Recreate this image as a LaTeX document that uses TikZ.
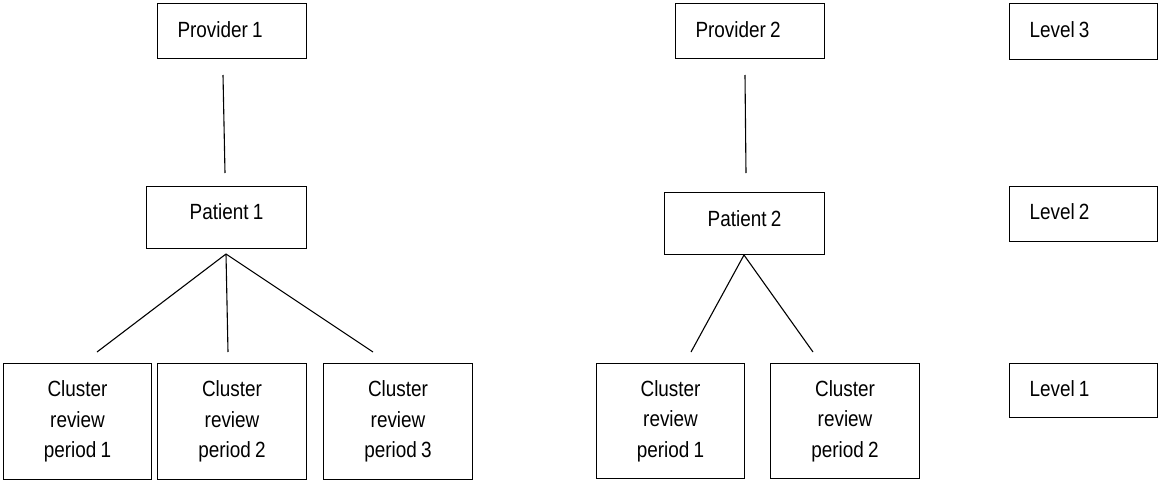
\documentclass[tikz,border=0pt]{standalone}
\usepackage{fontspec}
\setmainfont[FakeStretch=0.86,WordSpace=0.8]{Liberation Sans}
\begin{document}
\begin{tikzpicture}[x=1pt,y=-1pt,
  box/.style={draw,line width=1.1pt,inner sep=0pt,anchor=north west,
    font=\fontsize{22}{30.5}\selectfont},
  lbox/.style={box,inner xsep=20pt,align=flush left},
  cbox/.style={box,align=center},
  conn/.style={line width=1.1pt}]
\useasboundingbox (0,0) rectangle (1160,482);
% left tree
\node[lbox,text width=109pt,minimum height=55pt,text depth=4pt] (prov1) at (157,3) {Provider 1};
\node[box,minimum width=160pt,minimum height=62pt,text depth=12pt] (pat1) at (146,186) {Patient 1};
\node[cbox,minimum width=148pt,minimum height=116pt] (c11) at (3,363) {Cluster\\review\\period 1};
\node[cbox,minimum width=149pt,minimum height=116pt] (c12) at (157,363) {Cluster\\review\\period 2};
\node[cbox,minimum width=149pt,minimum height=116pt] (c13) at (323,363) {Cluster\\review\\period 3};
% right tree
\node[lbox,text width=109pt,minimum height=55pt,text depth=4pt] (prov2) at (675,3) {Provider 2};
\node[box,minimum width=160pt,minimum height=62pt,text depth=10pt] (pat2) at (664,192) {Patient 2};
\node[cbox,minimum width=148pt,minimum height=115pt] (c21) at (596,363) {Cluster\\review\\period 1};
\node[cbox,minimum width=149pt,minimum height=115pt] (c22) at (770,363) {Cluster\\review\\period 2};
% levels
\node[lbox,text width=108pt,minimum height=56pt,text depth=4pt] (lev3) at (1009,3) {Level 3};
\node[lbox,text width=108pt,minimum height=55pt,text depth=5pt] (lev2) at (1009,186) {Level 2};
\node[lbox,text width=108pt,minimum height=54pt,text depth=4pt] (lev1) at (1009,363) {Level 1};
% connector end points
\coordinate (p1a) at (223,75);
\coordinate (p1b) at (225,173);
\coordinate (ap1) at (226,254);
\coordinate (e11) at (97,352);
\coordinate (e12) at (228,352);
\coordinate (e13) at (373,352);
\coordinate (p2a) at (745,75);
\coordinate (p2b) at (746,173);
\coordinate (ap2) at (744,255);
\coordinate (e21) at (691,352);
\coordinate (e22) at (813,352);
\draw[conn] (p1a) -- (p1b);
\draw[conn] (ap1) -- (e11);
\draw[conn] (ap1) -- (e12);
\draw[conn] (ap1) -- (e13);
\draw[conn] (p2a) -- (p2b);
\draw[conn] (ap2) -- (e21);
\draw[conn] (ap2) -- (e22);
\end{tikzpicture}
\end{document}
